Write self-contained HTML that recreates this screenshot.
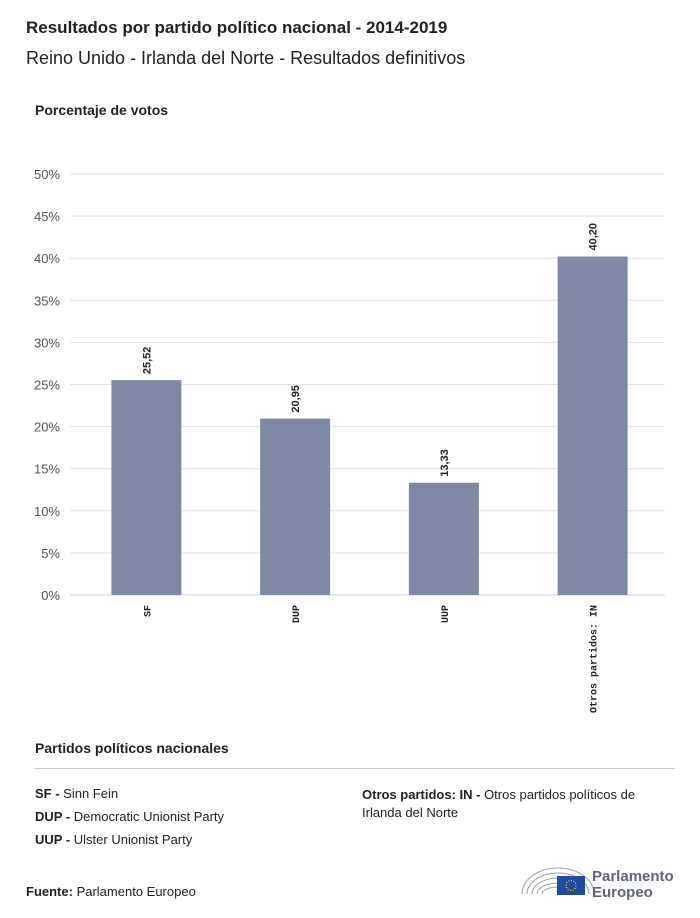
<!DOCTYPE html>
<html><head><meta charset="utf-8"><style>
body{margin:0;width:700px;height:918px;background:#fff;font-family:"Liberation Sans",sans-serif;color:#222;position:relative;overflow:hidden}
.a{position:absolute;white-space:nowrap}
</style></head><body>
<div class="a" style="left:26px;top:18px;font-size:17px;font-weight:bold">Resultados por partido político nacional - 2014-2019</div>
<div class="a" style="left:26px;top:48px;font-size:18px">Reino Unido - Irlanda del Norte - Resultados definitivos</div>
<div class="a" style="left:35px;top:102px;font-size:14px;font-weight:bold">Porcentaje de votos</div>
<svg id="chart" width="700" height="720" style="position:absolute;left:0;top:0"></svg>
<div class="a" style="left:35px;top:740px;font-size:14px;font-weight:bold">Partidos políticos nacionales</div>
<div class="a" style="left:35px;top:768px;width:640px;height:1px;background:#ccc"></div>
<div class="a" style="left:35px;top:786px;font-size:13px"><b>SF -</b> Sinn Fein</div>
<div class="a" style="left:35px;top:809px;font-size:13px"><b>DUP -</b> Democratic Unionist Party</div>
<div class="a" style="left:35px;top:832px;font-size:13px"><b>UUP -</b> Ulster Unionist Party</div>
<div class="a" style="left:362px;top:786px;font-size:13px;line-height:18px;white-space:normal;width:300px"><b>Otros partidos: IN -</b> Otros partidos políticos de Irlanda del Norte</div>
<div class="a" style="left:26px;top:884px;font-size:13px"><b>Fuente:</b> Parlamento Europeo</div>
<svg width="160" height="44" style="position:absolute;left:518px;top:858px">
<g fill="none" stroke="#9aa0a6" stroke-width="1">
<path d="M4 36 A36 26 0 0 1 76 36"/><path d="M9 36 A31 21 0 0 1 71 36"/><path d="M14 36 A26 16 0 0 1 66 36"/><path d="M19 36 A21 11 0 0 1 61 36"/><path d="M24 36 A16 7 0 0 1 56 36"/></g>
<rect x="39" y="18" width="28" height="19" fill="#1f4aa0"/>
<circle cx="53" cy="27.5" r="5" fill="none" stroke="#f5d400" stroke-width="1.2" stroke-dasharray="1 1.6"/>
<text x="74" y="23" font-size="15" font-weight="bold" fill="#5f6670">Parlamento</text>
<text x="74" y="39" font-size="15" font-weight="bold" fill="#5f6670">Europeo</text>
</svg>
<script>
const categories=["SF","DUP","UUP","Otros partidos: IN"];
const values=[25.52,20.95,13.33,40.20];
const valueLabels=["25,52","20,95","13,33","40,20"];
const ticks=[0,5,10,15,20,25,30,35,40,45,50];
const svg=document.getElementById('chart');
const NS='http://www.w3.org/2000/svg';
const y0=595,y50=174,xL=70,xR=665;
const yS=v=>y0-(y0-y50)*v/50;
const band=(xR-xL)/categories.length;
const xC=i=>xL+band*(i+0.5)+2;
function mk(t,a){const e=document.createElementNS(NS,t);for(const k in a)e.setAttribute(k,a[k]);svg.appendChild(e);return e;}
ticks.forEach(t=>{
 const l=mk('line',{x1:xL,x2:xR,y1:yS(t),y2:yS(t),stroke:t===0?'#c8d0e0':'#e3e3e3','stroke-width':1});
 
 
 const tx=mk('text',{x:60,y:yS(t)+5,'text-anchor':'end','font-size':13,fill:'#555','font-family':'Liberation Sans'});
 tx.textContent=t+'%';
 
 
});
categories.forEach((c,i)=>{
 const cx=xC(i),w=70;
 const r=mk('rect',{x:cx-w/2,y:yS(values[i]),width:w,height:y0-yS(values[i]),fill:'#7f88a4'});
 
 
 const vt=mk('text',{transform:`translate(${cx+4},${yS(values[i])-6}) rotate(-90)`,'font-size':11,'font-weight':'bold',fill:'#222','font-family':'Liberation Sans'});
 vt.textContent=valueLabels[i];
 
 
 const ct=mk('text',{transform:`translate(${cx+4},${y0+10}) rotate(-90)`,'text-anchor':'end','font-size':10,'font-weight':'bold',fill:'#222','font-family':'Liberation Mono'});
 ct.textContent=c;
 
 
});
</script>
</body></html>
